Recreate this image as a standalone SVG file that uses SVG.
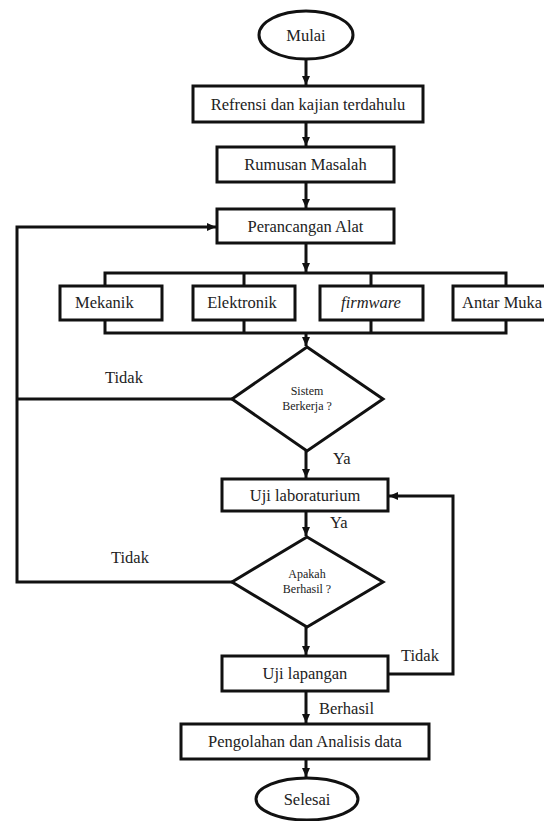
<svg xmlns="http://www.w3.org/2000/svg" width="544" height="821" viewBox="0 0 544 821">
<style>
.s{fill:#fff;stroke:#111;stroke-width:3}
.c{fill:none;stroke:#111;stroke-width:3}
.t{font-family:"Liberation Serif","Times New Roman",serif;font-size:16.5px;fill:#222;text-anchor:middle}
.l{text-anchor:start}
.sm{font-size:12px}
.i{font-style:italic}
</style>
<defs>
<marker id="ah" markerUnits="userSpaceOnUse" markerWidth="10" markerHeight="10" refX="9" refY="5" orient="auto">
<path d="M0,1 L9,5 L0,9 Z" fill="#111"/>
</marker>
</defs>
<rect width="544" height="821" fill="#fff"/>
<g id="connectors">
<path class="c" d="M306,59 V85" marker-end="url(#ah)"/>
<path class="c" d="M306,122 V146" marker-end="url(#ah)"/>
<path class="c" d="M306,182 V208" marker-end="url(#ah)"/>
<path class="c" d="M306,243 V272" marker-end="url(#ah)"/>
<path class="c" d="M105,286 V273 H506 V286"/>
<path class="c" d="M244,273 V286 M371,273 V286"/>
<path class="c" d="M105,320 V333 H506 V320 M244,320 V333 M371,320 V333"/>
<path class="c" d="M306,333 V346" marker-end="url(#ah)"/>
<path class="c" d="M306,451 V478" marker-end="url(#ah)"/>
<path class="c" d="M306,511 V536" marker-end="url(#ah)"/>
<path class="c" d="M306,627 V655" marker-end="url(#ah)"/>
<path class="c" d="M306,691 V723" marker-end="url(#ah)"/>
<path class="c" d="M306,759 V777" marker-end="url(#ah)"/>
<path class="c" d="M232,399 H17"/>
<path class="c" d="M232,582 H17 V227 H216" marker-end="url(#ah)"/>
<path class="c" d="M388,674 H453 V496 H389" marker-end="url(#ah)"/>
<text class="t l" x="105" y="383">Tidak</text>
<text class="t l" x="333" y="464">Ya</text>
<text class="t l" x="330" y="528">Ya</text>
<text class="t l" x="111" y="563">Tidak</text>
<text class="t l" x="401" y="661">Tidak</text>
<text class="t l" x="319" y="714">Berhasil</text>
</g>
<g id="mulai"><ellipse class="s" cx="306" cy="35" rx="47" ry="24"/><text class="t" x="306" y="41">Mulai</text></g>
<g id="refrensi"><rect class="s" x="193" y="86" width="230" height="36"/><text class="t" x="308" y="110">Refrensi dan kajian terdahulu</text></g>
<g id="rumusan"><rect class="s" x="217" y="147" width="177" height="35"/><text class="t" x="305.5" y="170">Rumusan Masalah</text></g>
<g id="perancangan"><rect class="s" x="217" y="209" width="177" height="34"/><text class="t" x="305.5" y="232">Perancangan Alat</text></g>
<g id="mekanik"><rect class="s" x="60" y="286" width="102" height="34"/><text class="t l" x="75" y="308">Mekanik</text></g>
<g id="elektronik"><rect class="s" x="193" y="286" width="102" height="34"/><text class="t" x="242" y="308">Elektronik</text></g>
<g id="firmware"><rect class="s" x="320" y="286" width="103" height="34"/><text class="t i" x="371" y="308">firmware</text></g>
<g id="antarmuka"><rect class="s" x="453" y="286" width="120" height="34"/><text class="t l" x="462" y="308">Antar Muka</text></g>
<g id="sistem"><polygon class="s" points="307,347 383,399 307,451 232,399"/><text class="t sm" x="307" y="395">Sistem</text><text class="t sm" x="307" y="410">Berkerja ?</text></g>
<g id="ujilab"><rect class="s" x="222" y="479" width="166" height="32"/><text class="t" x="305" y="501">Uji laboraturium</text></g>
<g id="apakah"><polygon class="s" points="307,537 383,582 307,627 232,582"/><text class="t sm" x="307" y="578">Apakah</text><text class="t sm" x="307" y="593">Berhasil ?</text></g>
<g id="ujilapangan"><rect class="s" x="222" y="656" width="166" height="35"/><text class="t" x="305" y="679">Uji lapangan</text></g>
<g id="pengolahan"><rect class="s" x="181" y="724" width="248" height="35"/><text class="t" x="305" y="747">Pengolahan dan Analisis data</text></g>
<g id="selesai"><ellipse class="s" cx="307" cy="799" rx="51" ry="21"/><text class="t" x="307" y="805">Selesai</text></g>
</svg>
